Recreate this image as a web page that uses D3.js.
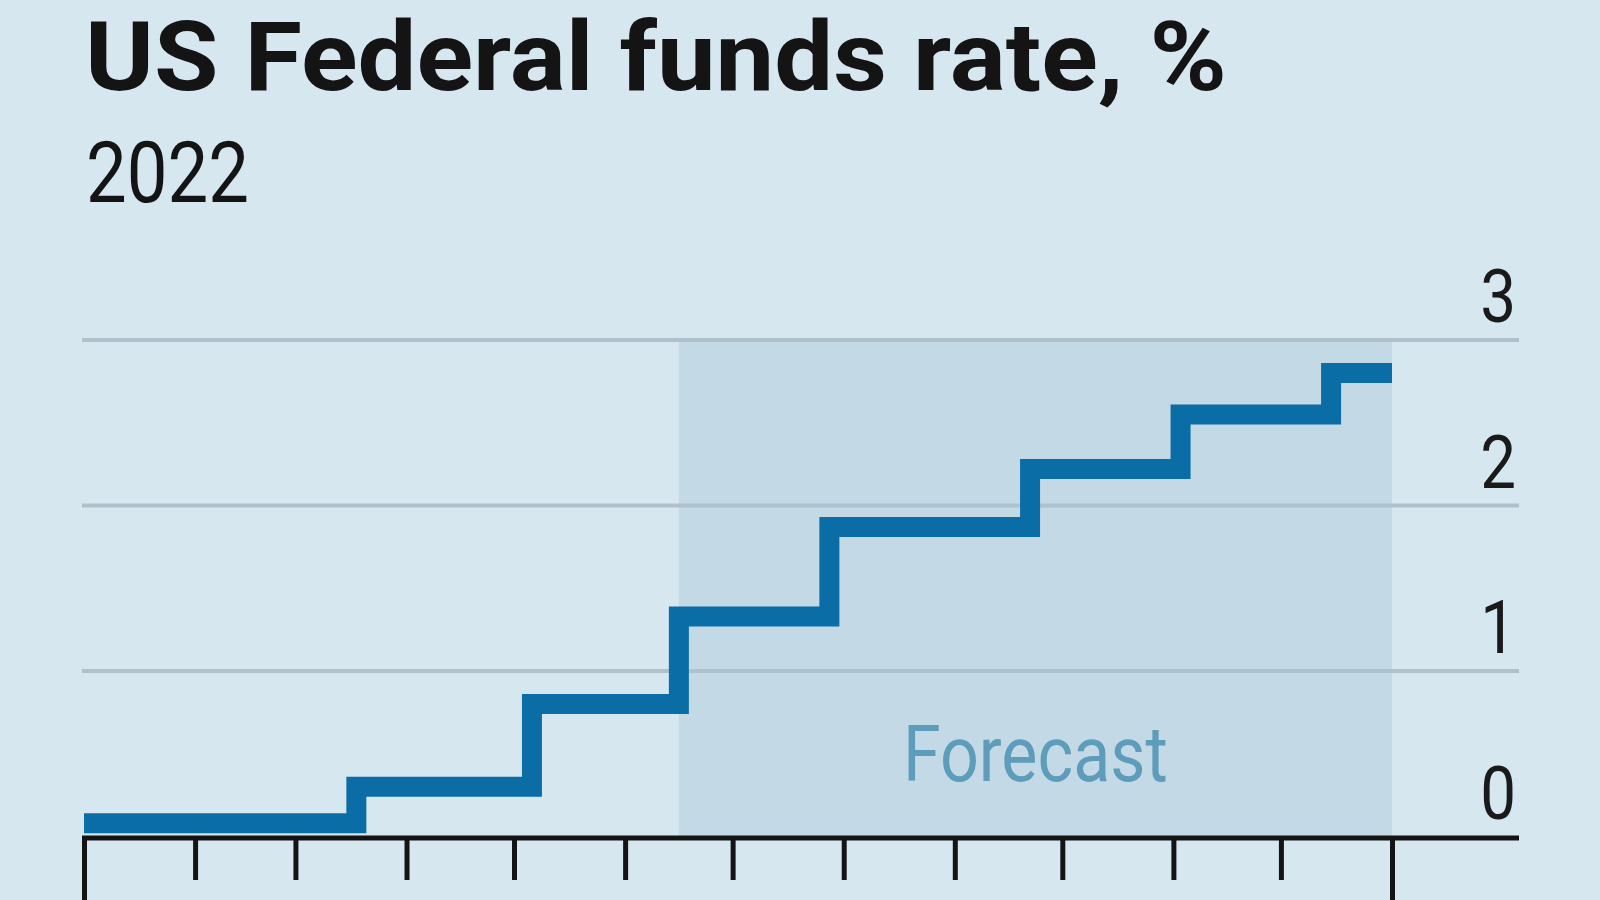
<!DOCTYPE html>
<html>
<head>
<meta charset="utf-8">
<script src="https://cdn.jsdelivr.net/npm/d3@7"></script>
<style>
  html, body { margin: 0; padding: 0; background: #d6e7f0; }
  svg { display: block; }
</style>
</head>
<body>
<svg id="chart" width="1600" height="900"></svg>
<script>
// ---- data ----
const titleText = "US Federal funds rate, %";
const subtitleText = "2022";
const forecastLabel = "Forecast";
const stepDates = ["2022-01-01", "2022-03-18", "2022-05-06", "2022-06-16", "2022-07-28", "2022-09-22", "2022-11-03", "2022-12-15", "2023-01-01"];
const rateValues = [0.08, 0.30, 0.80, 1.33, 1.87, 2.22, 2.55, 2.80, 2.80];
const forecastStart = "2022-06-16";
const forecastEnd = "2023-01-01";
const yTickValues = [0, 1, 2, 3];
const xDomain = ["2022-01-01", "2023-01-01"];

// ---- setup ----
const W = 1600, H = 900;
const parse = d3.timeParse("%Y-%m-%d");
const svg = d3.select("#chart");

svg.append("rect").attr("width", W).attr("height", H).attr("fill", "#d6e7f0");

const x = d3.scaleTime().domain(xDomain.map(parse)).range([84, 1392]);
const y = d3.scaleLinear().domain([0, 3]).range([836.5, 340]);
const gridLeft = 82, gridRight = 1519;

// forecast shading
svg.append("rect")
  .attr("x", x(parse(forecastStart)))
  .attr("y", y(3))
  .attr("width", x(parse(forecastEnd)) - x(parse(forecastStart)))
  .attr("height", y(0) - y(3))
  .attr("fill", "#c3d9e5");

// gridlines
svg.append("g").selectAll("line")
  .data(yTickValues.filter(v => v > 0))
  .join("line")
  .attr("x1", gridLeft).attr("x2", gridRight)
  .attr("y1", d => y(d)).attr("y2", d => y(d))
  .attr("stroke", "#afc1cc").attr("stroke-width", 4);

// forecast label
const fx = (x(parse(forecastStart)) + x(parse(forecastEnd))) / 2;
svg.append("text")
  .attr("x", fx - 132.5).attr("y", 781)
  .attr("font-family", "Roboto, 'Open Sans', sans-serif")
  .attr("font-size", 78)
  .attr("textLength", 265).attr("lengthAdjust", "spacingAndGlyphs")
  .attr("fill", "#5e9cbc")
  .text(forecastLabel);

// step line
const series = stepDates.map((d, i) => ({ date: parse(d), v: rateValues[i] }));
const line = d3.line().x(d => x(d.date)).y(d => y(d.v)).curve(d3.curveStepAfter);
svg.append("path")
  .datum(series)
  .attr("d", line)
  .attr("fill", "none")
  .attr("stroke", "#0b6da5")
  .attr("stroke-width", 20)
  .attr("stroke-linejoin", "miter")
  .attr("stroke-linecap", "butt");

// x axis
const axisY = y(0) + 1.5;
const xAxis = d3.axisBottom(x)
  .ticks(d3.timeMonth.every(1))
  .tickSize(42)
  .tickFormat("");
const gx = svg.append("g").attr("transform", `translate(0,${axisY})`).call(xAxis);
gx.select(".domain").remove();
gx.selectAll(".tick line").attr("stroke", "#141414").attr("stroke-width", 5);
const tickNodes = gx.selectAll(".tick line").nodes();
d3.select(tickNodes[0]).attr("y2", 80);
d3.select(tickNodes[tickNodes.length - 1]).attr("y2", 80);
svg.append("line")
  .attr("x1", gridLeft).attr("x2", gridRight)
  .attr("y1", axisY).attr("y2", axisY)
  .attr("stroke", "#141414").attr("stroke-width", 5);

// y labels (right side)
svg.append("g").selectAll("text")
  .data(yTickValues)
  .join("text")
  .attr("transform", d => `translate(1516,${y(d) - 18}) scale(0.85,1)`)
  .attr("text-anchor", "end")
  .attr("font-family", "Roboto, 'Open Sans', sans-serif")
  .attr("font-size", 75)
  .attr("fill", "#1a1a1a")
  .text(d => d);

// title & subtitle
svg.append("text")
  .attr("x", 85).attr("y", 90)
  .attr("font-family", "Roboto, 'Open Sans', sans-serif")
  .attr("font-weight", 700)
  .attr("font-size", 96)
  .attr("textLength", 1142).attr("lengthAdjust", "spacingAndGlyphs")
  .attr("fill", "#141414")
  .text(titleText);

svg.append("text")
  .attr("x", 86).attr("y", 202)
  .attr("font-family", "Roboto, 'Open Sans', sans-serif")
  .attr("font-weight", 400)
  .attr("font-size", 86)
  .attr("textLength", 163).attr("lengthAdjust", "spacingAndGlyphs")
  .attr("fill", "#141414")
  .text(subtitleText);
</script>
</body>
</html>
